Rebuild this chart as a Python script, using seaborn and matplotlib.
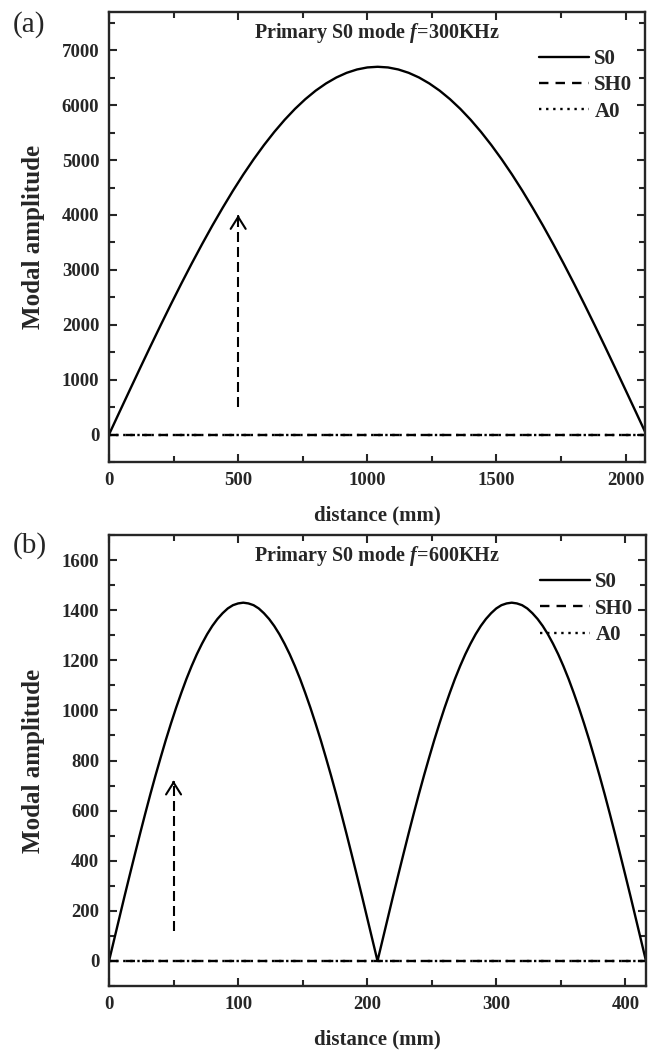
import matplotlib
matplotlib.use("Agg")
import matplotlib.pyplot as plt
from matplotlib.ticker import MultipleLocator
import numpy as np
import pandas as pd
import seaborn as sns

# panel (a): primary S0 mode, f = 300 KHz (distance read every 40 mm, symmetric arch)
dist_a = np.arange(0, 2081, 40)
half_a = [0, 405, 807, 1207, 1603, 1993, 2376, 2750, 3114, 3466, 3806, 4131, 4443,
          4738, 5015, 5274, 5514, 5734, 5933, 6110, 6265, 6396, 6505, 6590, 6651,
          6688, 6700]
s0_a = half_a + half_a[-2::-1]
sh0_a = [0] * len(dist_a)
a0_a = [0] * len(dist_a)

# panel (b): primary S0 mode, f = 600 KHz (distance read every 4 mm, two arches)
dist_b = np.arange(0, 417, 4)
half_b = [0, 86, 172, 258, 342, 425, 507, 587, 665, 740, 812, 882, 948, 1011,
          1070, 1126, 1177, 1224, 1266, 1304, 1337, 1365, 1388, 1407, 1420, 1427, 1430]
arch_b = half_b + half_b[-2::-1]
s0_b = arch_b + arch_b[1:]
sh0_b = [0] * len(dist_b)
a0_b = [0] * len(dist_b)

modes = ["S0", "SH0", "A0"]
titles = [r"Primary S0 mode $f$=300KHz", r"Primary S0 mode $f$=600KHz"]

# dashed arrows (x, y from, y to)
arrow_a = (500, 500, 4000)
arrow_b = (50, 120, 720)

sns.set_style("ticks")
plt.rcParams["font.family"] = ["Liberation Serif", "DejaVu Serif"]
plt.rcParams["font.weight"] = "bold"
plt.rcParams["axes.labelweight"] = "bold"
plt.rcParams["mathtext.fontset"] = "custom"
plt.rcParams["mathtext.rm"] = "Liberation Serif:bold"
plt.rcParams["mathtext.it"] = "Liberation Serif:italic:bold"


def draw_panel(ax, dist, s0, sh0, a0, title, arrow, xlim, ylim, xstep, ystep):
    df = pd.DataFrame({"distance": dist, "S0": s0, "SH0": sh0, "A0": a0})
    styles = {"S0": "-", "SH0": (0, (4, 3)), "A0": (0, (1, 2))}
    for m in modes:
        sns.lineplot(data=df, x="distance", y=m, ax=ax, color="black", lw=1.7,
                     linestyle=styles[m], label=m)

    # dashed arrow: shaft + solid open head
    x, y0, y1 = arrow
    ax.plot([x, x], [y0, y1], color="black", lw=1.5, linestyle=(0, (4.8, 2.4)))
    ax.annotate("", xy=(x, y1), xytext=(x, y1 - (ylim[1] - ylim[0]) * 0.01),
                arrowprops=dict(arrowstyle="->,head_length=0.43,head_width=0.27",
                                color="black", lw=1.5, mutation_scale=20))

    ax.set_xlim(*xlim)
    ax.set_ylim(*ylim)
    ax.xaxis.set_major_locator(MultipleLocator(xstep))
    ax.xaxis.set_minor_locator(MultipleLocator(xstep / 2))
    ax.yaxis.set_major_locator(MultipleLocator(ystep))
    ax.yaxis.set_minor_locator(MultipleLocator(ystep / 2))
    ax.tick_params(which="both", direction="in", top=True, right=True, width=1.5,
                   labelsize=13.5)
    ax.tick_params(which="major", length=6, pad=7)
    ax.tick_params(which="minor", length=4)
    for sp in ax.spines.values():
        sp.set_linewidth(1.7)

    ax.set_xlabel("distance (mm)", fontsize=15, labelpad=12)
    ax.set_ylabel("Modal amplitude", fontsize=18, labelpad=12)
    ax.text(0.5, 0.953, title, transform=ax.transAxes, ha="center", va="center",
            fontsize=14.5, fontweight="bold")

    ax.legend(loc="upper right", bbox_to_anchor=(1.0, 0.945), frameon=False,
              fontsize=15, handlelength=2.4, handletextpad=0.25,
              labelspacing=0.3, borderaxespad=0.2)


fig = plt.figure(figsize=(6.52, 10.53), dpi=100)
ax_a = fig.add_axes([0.1672, 0.5613, 0.8221, 0.4274])
ax_b = fig.add_axes([0.1672, 0.0636, 0.8236, 0.4283])

draw_panel(ax_a, dist_a, s0_a, sh0_a, a0_a, titles[0], arrow_a,
           (0, 2075), (-500, 7700), 500, 1000)
draw_panel(ax_b, dist_b, s0_b, sh0_b, a0_b, titles[1], arrow_b,
           (0, 416), (-100, 1700), 100, 200)

fig.text(0.045, 0.977, "(a)", fontsize=21, fontweight="normal", ha="center", va="center")
fig.text(0.045, 0.482, "(b)", fontsize=21, fontweight="normal", ha="center", va="center")

fig.savefig("out.png", dpi=100)
